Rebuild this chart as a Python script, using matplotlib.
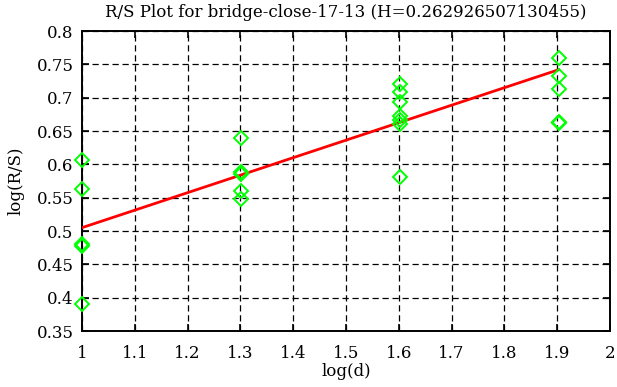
import matplotlib
matplotlib.use('Agg')
import matplotlib.pyplot as plt

# log(d) positions and measured log(R/S) values
x_1 = [1.0] * 5
y_1 = [0.607, 0.563, 0.481, 0.477, 0.391]
x_2 = [1.301] * 5
y_2 = [0.639, 0.588, 0.585, 0.560, 0.548]
x_3 = [1.602] * 7
y_3 = [0.720, 0.708, 0.694, 0.672, 0.667, 0.660, 0.581]
x_4 = [1.903] * 5
y_4 = [0.759, 0.733, 0.713, 0.664, 0.662]

fit_x = [1.0, 1.903]
fit_y = [0.505, 0.742]

xticks = [1, 1.1, 1.2, 1.3, 1.4, 1.5, 1.6, 1.7, 1.8, 1.9, 2]
xtick_labels = ['1', '1.1', '1.2', '1.3', '1.4', '1.5', '1.6', '1.7', '1.8', '1.9', '2']
yticks = [0.35, 0.4, 0.45, 0.5, 0.55, 0.6, 0.65, 0.7, 0.75, 0.8]
ytick_labels = ['0.35', '0.4', '0.45', '0.5', '0.55', '0.6', '0.65', '0.7', '0.75', '0.8']

plt.rcParams['font.family'] = ['DejaVu Serif']
fs = 12

fig = plt.figure(figsize=(6.17, 3.87), dpi=100)
ax = fig.add_axes([82 / 617, 1 - 331 / 387, 528 / 617, 300 / 387])

xs = x_1 + x_2 + x_3 + x_4
ys = y_1 + y_2 + y_3 + y_4
ax.plot(xs, ys, linestyle='none', marker='D', markersize=7.5, markerfacecolor='none',
        markeredgecolor='#00ff00', markeredgewidth=1.4, zorder=4, clip_on=False)
ax.plot(fit_x, fit_y, color='#ff0000', linewidth=2, zorder=3)

ax.set_xlim(1, 2)
ax.set_ylim(0.35, 0.8)
ax.set_xticks(xticks)
ax.set_xticklabels(xtick_labels)
ax.set_yticks(yticks)
ax.set_yticklabels(ytick_labels)
ax.tick_params(direction='in', length=5, width=1.2, top=True, right=True, labelsize=fs)
ax.tick_params(axis='x', pad=10)
ax.tick_params(axis='y', pad=6)
ax.grid(True, color='black', linestyle=(0, (5, 3)), linewidth=0.9)
for sp in ax.spines.values():
    sp.set_linewidth(1.4)

ax.set_title('R/S Plot for bridge-close-17-13 (H=0.262926507130455)', fontsize=fs, pad=10)
ax.set_xlabel('log(d)', fontsize=fs, labelpad=1)
ax.set_ylabel('log(R/S)', fontsize=fs, labelpad=9)

fig.savefig('out.png', dpi=100)
